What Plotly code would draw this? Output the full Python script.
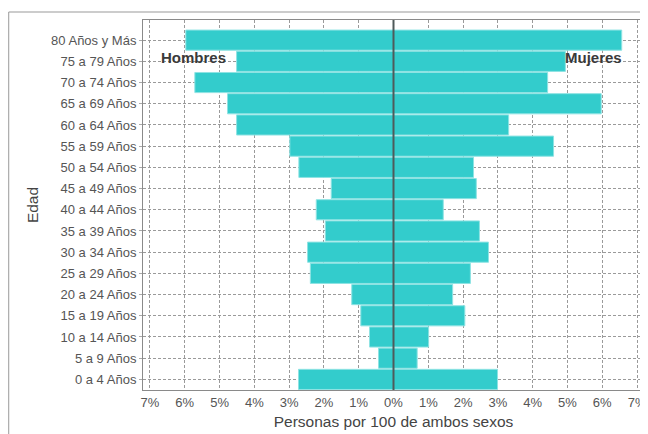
import plotly.graph_objects as go

categorias = ["0 a 4 Años", "5 a 9 Años", "10 a 14 Años", "15 a 19 Años", "20 a 24 Años",
              "25 a 29 Años", "30 a 34 Años", "35 a 39 Años", "40 a 44 Años", "45 a 49 Años",
              "50 a 54 Años", "55 a 59 Años", "60 a 64 Años", "65 a 69 Años", "70 a 74 Años",
              "75 a 79 Años", "80 Años y Más"]
hombres = [2.73, 0.43, 0.69, 0.94, 1.20, 2.39, 2.47, 1.96, 2.22, 1.79,
           2.72, 2.98, 4.51, 4.77, 5.71, 4.51, 5.97]
mujeres = [2.99, 0.68, 1.01, 2.05, 1.70, 2.21, 2.73, 2.47, 1.43, 2.38,
           2.30, 4.60, 3.31, 5.97, 4.43, 4.94, 6.56]
tick_vals = [-7, -6, -5, -4, -3, -2, -1, 0, 1, 2, 3, 4, 5, 6, 7]
tick_text = ["7%", "6%", "5%", "4%", "3%", "2%", "1%", "0%", "1%", "2%", "3%", "4%", "5%", "6%", "7%"]

color = "#33cccc"
edge = "#8ee3e3"
font = "Liberation Sans, Arial, sans-serif"

fig = go.Figure()
fig.add_trace(go.Bar(y=categorias, x=[-v for v in hombres], orientation="h", name="Hombres",
                     marker=dict(color=color, line=dict(color=edge, width=1))))
fig.add_trace(go.Bar(y=categorias, x=mujeres, orientation="h", name="Mujeres",
                     marker=dict(color=color, line=dict(color=edge, width=1))))

fig.update_layout(
    width=640, height=426,
    margin=dict(l=135, r=4, t=12, b=44, autoexpand=False),
    barmode="relative", bargap=0.05,
    showlegend=False,
    paper_bgcolor="white", plot_bgcolor="white",
    font=dict(family=font, color="#555555", size=13),
)
fig.update_xaxes(
    range=[-7.2, 7.2], tickvals=tick_vals, ticktext=tick_text, automargin=False,
    showgrid=True, gridcolor="#9a9a9a", griddash="3px,2px", gridwidth=1,
    zeroline=False, showline=True, mirror=True, linecolor="#8a8a8a", linewidth=1,
    tickfont=dict(size=13, color="#555555"),
    title=dict(text="Personas por 100 de ambos sexos", font=dict(size=15.5, color="#444444"), standoff=7),
)
fig.update_yaxes(
    categoryorder="array", categoryarray=categorias, range=[-0.5, 16.95], automargin=False,
    showgrid=True, gridcolor="#9a9a9a", griddash="3px,2px", gridwidth=1,
    zeroline=False, showline=True, mirror=True, linecolor="#8a8a8a", linewidth=1,
    ticks="outside", ticklen=3, tickcolor="#aaaaaa",
    tickfont=dict(size=13, color="#555555"),
    title=dict(text="Edad", font=dict(size=15.5, color="#444444"), standoff=8),
)
# center line
fig.add_shape(type="line", xref="x", yref="paper", x0=0, x1=0, y0=0, y1=1,
              line=dict(color="#4f5a5a", width=2), layer="above")
# outer frame
fig.add_shape(type="rect", xref="paper", yref="paper", x0=-0.268, x1=1.2, y0=-0.3, y1=1.0216,
              line=dict(color="#999999", width=1), layer="below")

fig.add_annotation(x=-5.75, y=15.2, text="<b>Hombres</b>", showarrow=False,
                   font=dict(size=15, color="#3a3a3a", family=font))
fig.add_annotation(x=5.75, y=15.2, text="<b>Mujeres</b>", showarrow=False,
                   font=dict(size=15, color="#3a3a3a", family=font))

fig.write_html("out.html")
